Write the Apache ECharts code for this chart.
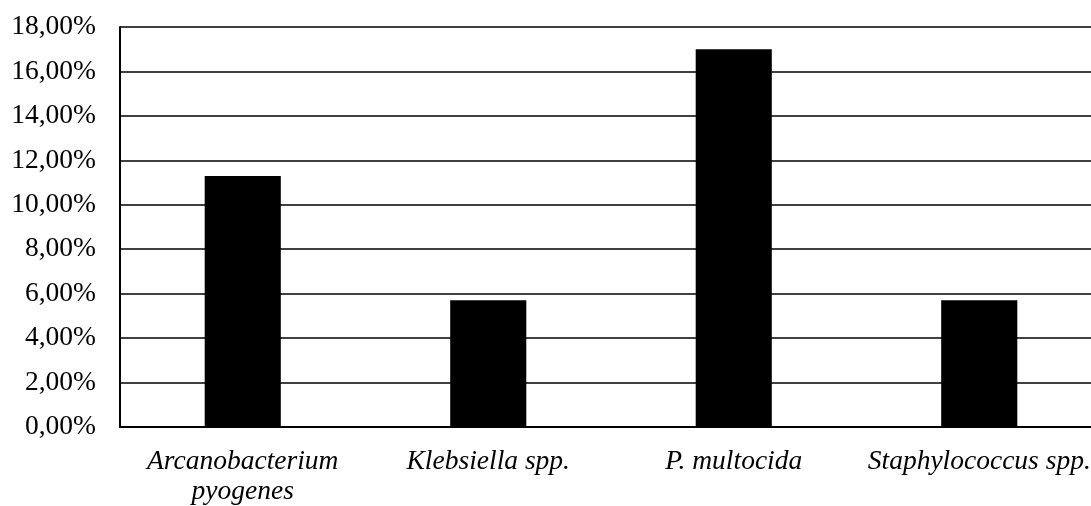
<!DOCTYPE html>
<html>
<head>
<meta charset="utf-8">
<script src="https://cdn.jsdelivr.net/npm/echarts@6/dist/echarts.min.js"></script>
<style>
html,body{margin:0;padding:0;background:#fff;}
#chart{width:1091px;height:506px;}
</style>
</head>
<body>
<div id="chart"></div>
<script>
const categories = ['Arcanobacterium\npyogenes', 'Klebsiella spp.', 'P. multocida', 'Staphylococcus spp.'];
const values = [11.3, 5.7, 17.0, 5.7];
const yTicks = { min: 0, max: 18, interval: 2 };

const chart = echarts.init(document.getElementById('chart'));
chart.setOption({
  animation: false,
  backgroundColor: '#fff',
  grid: { left: 120, right: -11, top: 27, bottom: 79, outerBoundsMode: 'none', containLabel: false },
  xAxis: {
    type: 'category',
    data: categories,
    axisLine: { show: true, lineStyle: { color: '#000', width: 2 } },
    axisTick: { show: false },
    axisLabel: {
      interval: 0,
      margin: 20,
      color: '#000',
      fontFamily: 'Liberation Serif',
      fontStyle: 'italic',
      fontSize: 27.5,
      lineHeight: 30
    }
  },
  yAxis: {
    type: 'value',
    min: yTicks.min,
    max: yTicks.max,
    interval: yTicks.interval,
    axisLine: { show: true, lineStyle: { color: '#000', width: 2 } },
    axisTick: { show: false },
    splitLine: { show: true, lineStyle: { color: '#000', width: 1.5 } },
    axisLabel: {
      margin: 24,
      color: '#000',
      fontFamily: 'Liberation Serif',
      fontSize: 27.5,
      formatter: v => v.toFixed(2).replace('.', ',') + '%'
    }
  },
  series: [{
    type: 'bar',
    data: values,
    barWidth: '31%',
    itemStyle: { color: '#000' }
  }]
});
</script>
</body>
</html>
